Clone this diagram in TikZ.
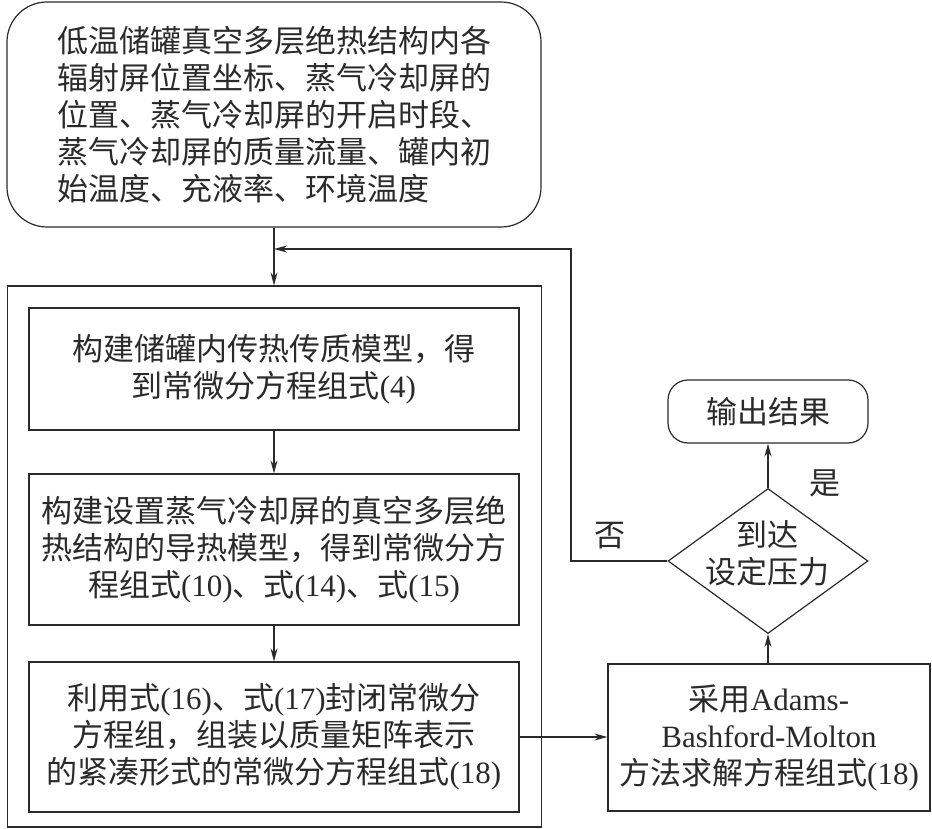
\documentclass[tikz,border=0pt]{standalone}
\usepackage{fontspec}
\setmainfont{Noto Sans CJK SC}
\newfontfamily\lat{Liberation Serif}
\usetikzlibrary{shapes.geometric,arrows.meta}
\definecolor{ink}{HTML}{2A2A2A}
\tikzset{
  every node/.style={text=ink},
  txt/.style={font=\fontsize{31}{37}\selectfont, align=center, inner sep=0},
  box/.style={draw=ink, line width=1.2pt, rectangle, inner sep=0, font=\fontsize{31}{37}\selectfont, align=center},
  rbox/.style={box, rounded corners=40pt},
  obox/.style={box, rounded corners=20pt},
  dbox/.style={draw=ink, line width=1.2pt, diamond, inner sep=0},
  arr/.style={draw=ink, line width=1.2pt, -{Stealth[length=13pt,width=7pt]}},
  ln/.style={draw=ink, line width=1.2pt},
}
\begin{document}
\begin{tikzpicture}[x=1pt,y=-1pt]
\useasboundingbox (0,0) rectangle (932,829);
% outer group box
\node[box, minimum width=534, minimum height=541] (outer) at (274.5,556.5) {};
% top input box
\node[rbox, minimum width=534, minimum height=225, align=left] (top) at (274,114.5)
  {低温储罐真空多层绝热结构内各\\辐射屏位置坐标、蒸气冷却屏的\\位置、蒸气冷却屏的开启时段、\\蒸气冷却屏的质量流量、罐内初\\始温度、充液率、环境温度};
% inner boxes
\node[box, minimum width=490, minimum height=122] (b1) at (274,369)
  {构建储罐内传热传质模型，得\\到常微分方程组式{\lat(4)}};
\node[box, minimum width=490, minimum height=151] (b2) at (274,549.5)
  {构建设置蒸气冷却屏的真空多层绝\\热结构的导热模型，得到常微分方\\程组式{\lat(10)}、式{\lat(14)}、式{\lat(15)}};
\node[box, minimum width=490, minimum height=150] (b3) at (274,737)
  {利用式{\lat(16)}、式{\lat(17)}封闭常微分\\方程组，组装以质量矩阵表示\\的紧凑形式的常微分方程组式{\lat(18)}};
% right column
\node[box, minimum width=322, minimum height=147] (rb) at (769,737.5)
  {采用{\lat Adams-}\\{\lat Bashford-Molton}\\方法求解方程组式{\lat(18)}};
\node[dbox, minimum width=200, minimum height=145] (dec) at (768,561) {};
\node[txt] (dect) at (767,553) {到达\\设定压力};
\node[obox, minimum width=200, minimum height=63] (out) at (768,411.5) {输出结果};
% labels
\node[txt] (no) at (610,536) {否};
\node[txt] (yes) at (825,483) {是};
% connectors
\coordinate (fb) at (571,249);
\draw[arr] (top.south) -- (outer.north -| top.south);
\draw[arr] (b1.south) -- (b2.north);
\draw[arr] (b2.south) -- (b3.north);
\draw[arr] (b3.east) -- (b3.east -| rb.west);
\draw[arr] (rb.north -| dec.south) -- (dec.south);
\draw[arr] (dec.north) -- (out.south);
\draw[arr] (dec.west) -| (fb) -- (fb -| top.south);
\end{tikzpicture}
\end{document}
